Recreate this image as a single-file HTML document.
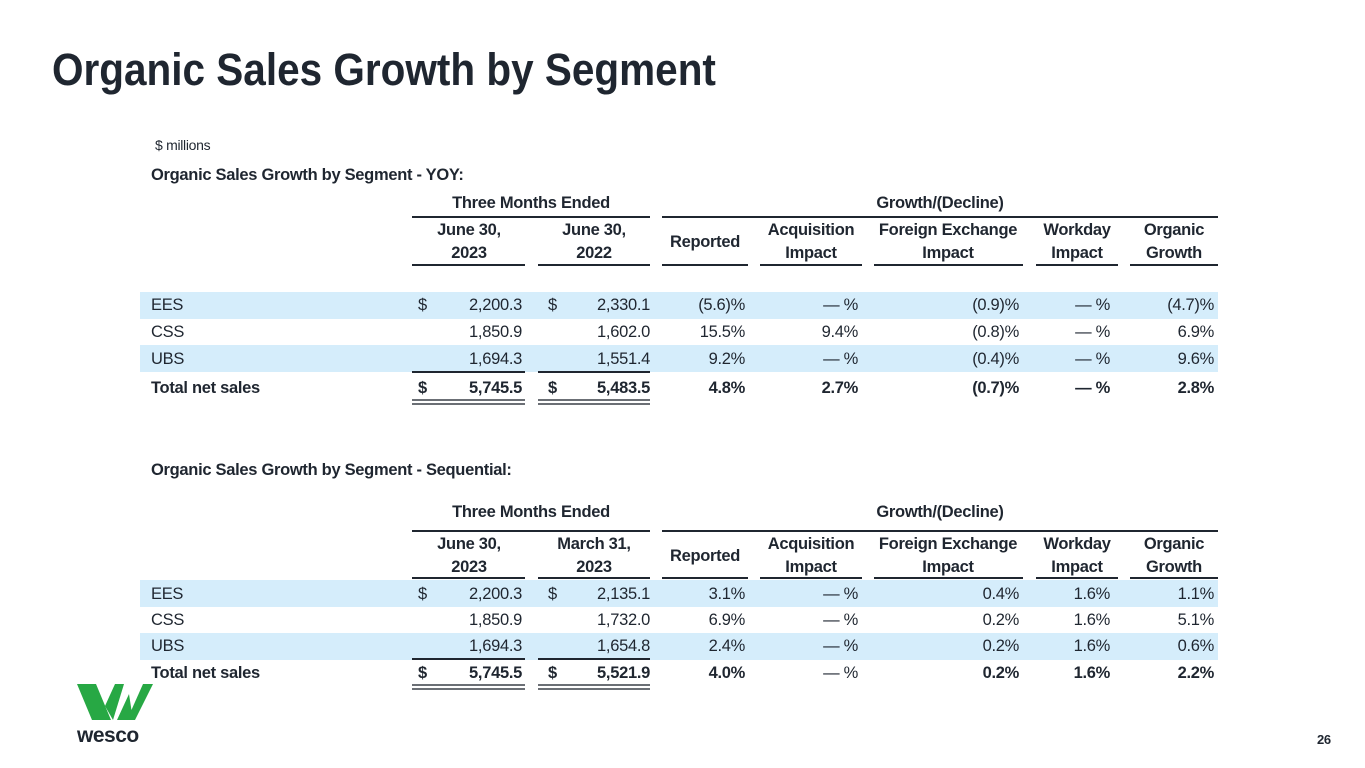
<!DOCTYPE html>
<html><head><meta charset="utf-8"><style>
body{margin:0;background:#fff;}
#page{position:relative;width:1365px;height:768px;overflow:hidden;background:#fff;font-family:"Liberation Sans",sans-serif;color:#1f2630;}
.t{position:absolute;white-space:nowrap;font-size:16.5px;line-height:18px;letter-spacing:-0.3px;}
.b{font-weight:bold;}
.r{text-align:right;}
.c{text-align:center;transform:translateX(-50%);}
.band{position:absolute;left:140px;width:1078px;height:26px;background:#d5edfb;}
.ln{position:absolute;height:2px;background:#1f2630;}
.dl{position:absolute;height:2px;border-top:2px solid #6b6f75;border-bottom:2px solid #6b6f75;}
</style></head><body>
<div id="page">
<div class="t b" style="left:52px;top:44px;font-size:45px;line-height:52px;letter-spacing:0;transform:scaleX(0.9);transform-origin:left top;">Organic Sales Growth by Segment</div>
<div class="t" style="left:155px;top:136px;font-size:14px;">$ millions</div>
<div id="tables"></div>
<div class="t b" style="left:1317px;top:731px;font-size:13px;">26</div>
<svg style="position:absolute;left:75px;top:682px" width="82" height="64" viewBox="0 0 82 64">
<polygon points="2,2 21,2 36,38 17,38" fill="#27a844"/>
<polygon points="30,24 40,2 49,2 38,38" fill="#27a844"/>
<polygon points="42,38 54,12 58,38" fill="#27a844"/>
<polygon points="52,38 68,2 78,2 60,38" fill="#27a844"/>
<text x="2" y="60" font-family="Liberation Sans,sans-serif" font-weight="bold" font-size="21" fill="#1f2630" letter-spacing="-0.5">wesco</text>
</svg>
</div>
<script>
const segments=["EES","CSS","UBS","Total net sales"];
const t1Cur=["2,200.3","1,850.9","1,694.3","5,745.5"];
const t1Prev=["2,330.1","1,602.0","1,551.4","5,483.5"];
const t1Rep=["(5.6)%","15.5%","9.2%","4.8%"];
const t1Acq=["— %","9.4%","— %","2.7%"];
const t1Fx=["(0.9)%","(0.8)%","(0.4)%","(0.7)%"];
const t1Wd=["— %","— %","— %","— %"];
const t1Org=["(4.7)%","6.9%","9.6%","2.8%"];
const t2Cur=["2,200.3","1,850.9","1,694.3","5,745.5"];
const t2Prev=["2,135.1","1,732.0","1,654.8","5,521.9"];
const t2Rep=["3.1%","6.9%","2.4%","4.0%"];
const t2Acq=["— %","— %","— %","— %"];
const t2Fx=["0.4%","0.2%","0.2%","0.2%"];
const t2Wd=["1.6%","1.6%","1.6%","1.6%"];
const t2Org=["1.1%","5.1%","0.6%","2.2%"];

const root=document.getElementById('tables');
function txt(s,x,y,cls,name,right){
  const el=document.createElement('div');
  el.className='t '+cls;
  el.textContent=s;
  if(right){el.style.right=(1365-x)+'px';}else{el.style.left=x+'px';}
  el.style.top=(y-9)+'px';
  
  
  root.appendChild(el);return el;
}
function box(cls,x,y,w,name,h){
  const el=document.createElement('div');
  el.className=cls;
  el.style.left=x+'px';el.style.top=y+'px';el.style.width=w+'px';
  if(h)el.style.height=h+'px';
  
  
  root.appendChild(el);return el;
}
const cols=[[412,525],[538,650],[662,748],[760,862],[874,1023],[1036,1118],[1130,1218]];
function table(cfg){
  txt(cfg.title,151,cfg.titleY,'b','table-heading');
  txt('Three Months Ended',531,cfg.headY,'b c','three-months-header');
  txt('Growth/(Decline)',940,cfg.headY,'b c','growth-decline-header');
  box('ln',412,cfg.rule1,238,'header-rule');
  box('ln',662,cfg.rule1,556,'header-rule');
  const hy1=cfg.sub1,hy2=cfg.sub2;
  txt('June 30,',469,hy1,'b c','col-header');
  txt('2023',469,hy2,'b c','col-header');
  txt(cfg.prevA,594,hy1,'b c','col-header');
  txt(cfg.prevB,594,hy2,'b c','col-header');
  txt('Reported',705,(hy1+hy2)/2,'b c','col-header');
  txt('Acquisition',811,hy1,'b c','col-header');txt('Impact',811,hy2,'b c','col-header');
  txt('Foreign Exchange',948,hy1,'b c','col-header');txt('Impact',948,hy2,'b c','col-header');
  txt('Workday',1077,hy1,'b c','col-header');txt('Impact',1077,hy2,'b c','col-header');
  txt('Organic',1174,hy1,'b c','col-header');txt('Growth',1174,hy2,'b c','col-header');
  cols.forEach(c=>box('ln',c[0],cfg.rule2,c[1]-c[0],'subheader-rule'));
  const rows=cfg.rows;
  box('band',140,cfg.bands[0],1078,'row-band',27);
  box('band',140,cfg.bands[1],1078,'row-band',27);
  for(let i=0;i<4;i++){
    const y=rows[i],tot=i===3,bc=tot?'b':'';
    txt(segments[i],151,y,bc,'segment-label');
    if(i===0||tot){txt('$',418,y,bc,'dollar-sign');txt('$',548,y,bc,'dollar-sign');}
    txt(cfg.cur[i],522,y,bc+' r','current-value',true);
    txt(cfg.prev[i],650,y,bc+' r','prior-value',true);
    txt(cfg.rep[i],745,y,bc+' r','reported-growth',true);
    txt(cfg.acq[i],858,y,(tot&&cfg.acqBold?'b':'')+' r','acquisition-impact',true);
    txt(cfg.fx[i],1019,y,bc+' r','fx-impact',true);
    txt(cfg.wd[i],1110,y,bc+' r','workday-impact',true);
    txt(cfg.org[i],1214,y,bc+' r','organic-growth',true);
  }
  box('ln',412,cfg.subRule,113,'subtotal-rule');
  box('ln',538,cfg.subRule,112,'subtotal-rule');
  box('dl',412,cfg.dbl,113,'total-double-rule');
  box('dl',538,cfg.dbl,112,'total-double-rule');
}
table({titleY:175,headY:203,rule1:216,sub1:230,sub2:253,rule2:264,bands:[292,345],subRule:371,dbl:399,
  title:'Organic Sales Growth by Segment - YOY:',prevA:'June 30,',prevB:'2022',rows:[305,332,359,388],
  cur:t1Cur,prev:t1Prev,rep:t1Rep,acq:t1Acq,fx:t1Fx,wd:t1Wd,org:t1Org,acqBold:true});
table({titleY:470,headY:512,rule1:530,sub1:544,sub2:567,rule2:577,bands:[580,633],subRule:658,dbl:684,
  title:'Organic Sales Growth by Segment - Sequential:',prevA:'March 31,',prevB:'2023',rows:[594,620,646,673],
  cur:t2Cur,prev:t2Prev,rep:t2Rep,acq:t2Acq,fx:t2Fx,wd:t2Wd,org:t2Org,acqBold:false});
</script>
</body></html>
